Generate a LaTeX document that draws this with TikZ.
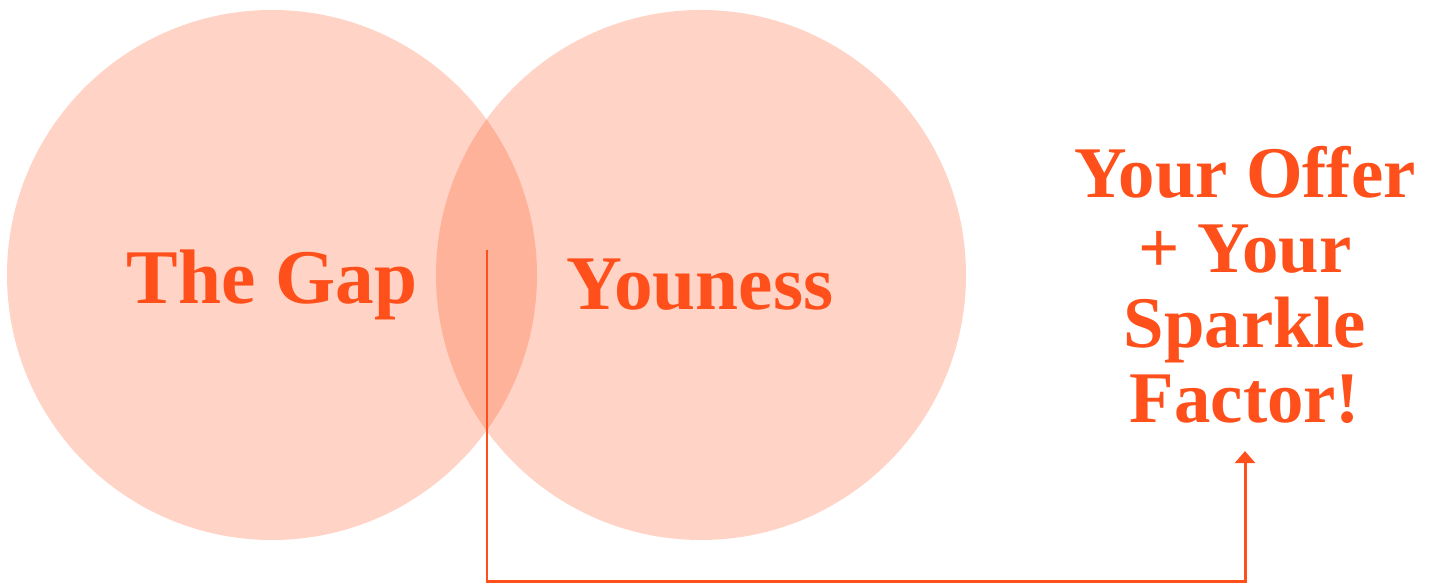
\documentclass[tikz,border=0pt]{standalone}
\usepackage{fontspec}
\setmainfont{Liberation Serif}
\usetikzlibrary{calc,positioning,arrows.meta}

\definecolor{sparkle}{HTML}{FF4F1A}

\tikzset{
  bubble/.style={circle, fill=sparkle, fill opacity=0.25, minimum size=5.3cm, inner sep=0pt},
  bubbletext/.style={text=sparkle, font=\bfseries\fontsize{22}{24}\selectfont, inner sep=0pt},
  offertext/.style={text=sparkle, font=\bfseries\fontsize{20.7}{21.3}\selectfont, align=center, inner sep=0pt},
  link/.style={draw=sparkle, line width=0.85pt, -{Triangle[width=0.2cm,length=0.12cm]}}
}

\begin{document}
\begin{tikzpicture}

\useasboundingbox (0,0) rectangle (14.34,5.84);

\node[bubble] (gap) at (2.72,3.09) {};
\node[bubble] (you) at (7.01,3.09) {};

\node[bubbletext] (gaplabel) at (2.72,2.99) {The Gap};
\node[bubbletext] (youlabel) at (7.00,2.99) {Youness};

\node[offertext] (offer) at (12.45,2.99) {Your Offer\\+ Your\\Sparkle\\Factor!};

\coordinate (sweet) at (4.87,3.34);
\coordinate (turn) at (4.87,0.02);

\draw[link] (sweet) -- (turn) -| ($(offer.south)+(0,-0.27)$);

\end{tikzpicture}
\end{document}
